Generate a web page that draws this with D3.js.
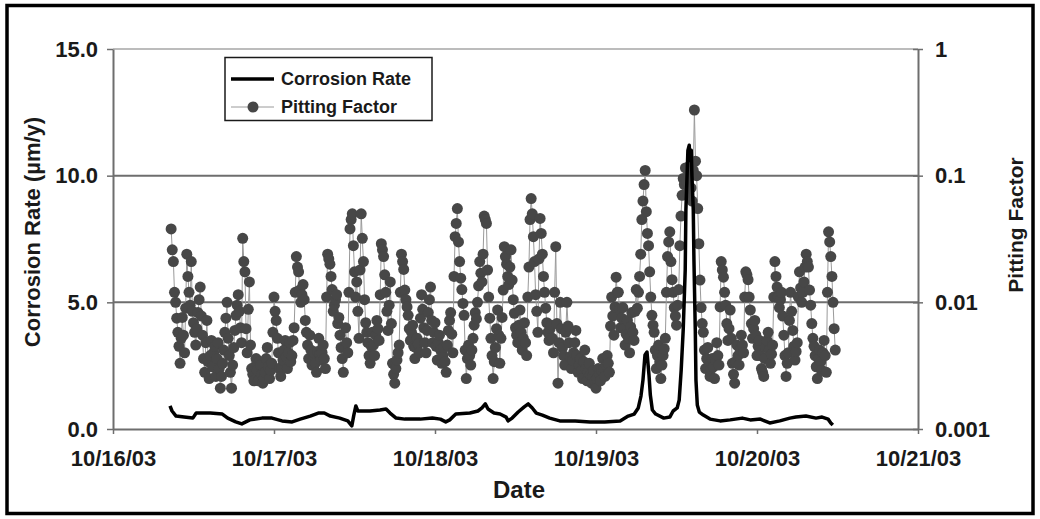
<!DOCTYPE html>
<html>
<head>
<meta charset="utf-8">
<script src="https://cdn.jsdelivr.net/npm/d3@7"></script>
<style>
  body { margin: 0; background: #fff; }
  text { font-family: "Liberation Sans", Arial, sans-serif; }
</style>
</head>
<body>
<svg id="chart" width="1040" height="519"></svg>
<script>
// pitting factor, one reading every 10 minutes from 10/16/03 08:40
const pittingStart = new Date(2003, 9, 16, 8, 40);
const pittingStepMinutes = 10;
const pittingFactor = [
  .038, .026, .021, .012, .01, .0075, .0058, .0045, .0033, .0052, .0076, .0055, .004, .009, .024, .016, .012, .0095, .021, .0085,
  .0069, .0058, .0046, .0062, .0083, .0105, .0132, .0078, .0055, .0036, .0028, .0048, .0072, .0034, .0025, .0038, .005, .0031, .004, .0045,
  .0026, .0036, .0048, .003, .0021, .0026, .0033, .0042, .0058, .0075, .01, .0052, .0038, .0028, .0021, .0032, .0044, .006, .0079, .0095,
  .0115, .0085, .0063, .0048, .032, .021, .0174, .0062, .004, .0088, .0145, .0046, .003, .0027, .0024, .0031, .0036, .0029, .0024, .0034,
  .0032, .0027, .0023, .0025, .0028, .0036, .0044, .0031, .0025, .0029, .0033, .0058, .011, .0085, .0072, .0052, .004, .003, .0026, .0031,
  .0035, .0042, .005, .0037, .003, .004, .0048, .0034, .0038, .005, .0063, .012, .023, .019, .0174, .0125, .01, .0115, .0138, .0105,
  .0072, .0058, .0046, .0036, .0055, .0042, .0032, .0035, .004, .0033, .0028, .0041, .0052, .0039, .0035, .004, .0046, .0036, .003, .011,
  .024, .022, .02, .016, .0126, .0085, .0095, .0105, .0115, .0068, .0076, .0055, .0044, .0036, .0028, .0045, .0063, .0048, .004, .012,
  .038, .045, .05, .028, .0174, .011, .0145, .0085, .0052, .018, .05, .032, .021, .0105, .0069, .0058, .0048, .0038, .0033, .0045,
  .0058, .0046, .0038, .0055, .0072, .0062, .005, .0115, .029, .026, .023, .0165, .012, .0085, .006, .0095, .0145, .0068, .0033, .0027,
  .0023, .003, .0035, .004, .0046, .012, .024, .021, .0182, .0125, .0105, .0092, .0079, .0062, .005, .0058, .0066, .0045, .0036, .0044,
  .0052, .0047, .004, .0075, .0115, .0088, .0063, .0048, .004, .006, .0083, .0105, .0132, .0072, .0048, .0058, .0069, .0045, .0035, .0048,
  .0055, .0042, .0033, .0038, .0044, .0034, .0028, .0046, .006, .0072, .0083, .0056, .004, .016, .033, .042, .055, .03, .021, .0155,
  .0126, .0098, .0079, .0042, .0025, .0036, .0046, .0038, .0032, .0042, .0052, .0066, .0083, .0074, .01, .0135, .021, .017, .0145, .024,
  .048, .045, .042, .018, .011, .0075, .0052, .0038, .0025, .0034, .0044, .0062, .0087, .0055, .0033, .0052, .0076, .0125, .0275, .023,
  .02, .016, .0138, .019, .026, .015, .0105, .0082, .0063, .0055, .0048, .0066, .0087, .0058, .0042, .0052, .0069, .0048, .0038, .011,
  .019, .045, .066, .05, .033, .021, .0115, .0085, .0058, .022, .046, .035, .024, .016, .012, .009, .0069, .0058, .005, .0062,
  .0066, .0052, .004, .012, .0275, .0068, .0023, .0048, .01, .0062, .0044, .0038, .0032, .0058, .01, .0065, .0048, .0037, .003, .0035,
  .004, .0048, .006, .0038, .0028, .0032, .0036, .0029, .0025, .0034, .0042, .003, .0024, .0028, .0033, .0027, .0023, .0026, .0029, .0024,
  .0021, .0025, .003, .0027, .0024, .0029, .0036, .003, .0026, .0032, .0038, .0033, .0028, .0065, .011, .0078, .0055, .0092, .0158, .012,
  .012, .0088, .0063, .0075, .0091, .0062, .0046, .0056, .0072, .0052, .004, .0064, .0083, .0058, .005, .0085, .0126, .009, .012, .016,
  .024, .045, .063, .085, .11, .052, .035, .028, .0174, .011, .0079, .0066, .0058, .0042, .003, .0038, .0046, .0034, .0025, .0032,
  .0038, .0043, .0052, .012, .023, .03, .036, .021, .0151, .012, .0091, .0078, .0066, .0095, .0126, .028, .048, .07, .095, .085,
  .115, .09, .072, .1, .12, .08, .063, .11, .33, .13, .1, .055, .029, .015, .0091, .0068, .0058, .0042, .003, .0036,
  .0044, .0032, .0026, .003, .0036, .0031, .0025, .0035, .0048, .0038, .0032, .0092, .021, .018, .0158, .012, .0095, .0068, .005, .0062,
  .0087, .0052, .0033, .0027, .0023, .0034, .0046, .0038, .0032, .0042, .0055, .0046, .004, .011, .0174, .0165, .0151, .011, .0087, .0068,
  .0052, .0062, .0072, .0055, .0038, .0045, .005, .0038, .003, .0028, .0026, .0036, .0044, .005, .0058, .0042, .0033, .0039, .0046, .011,
  .021, .016, .0132, .011, .0091, .0105, .012, .0078, .0055, .0038, .0026, .0033, .004, .0072, .012, .0085, .006, .0045, .0035, .0041,
  .0048, .011, .0174, .013, .01, .012, .0145, .019, .024, .021, .019, .0125, .0095, .0068, .0052, .0045, .0038, .0031, .0025, .0036,
  .0042, .0034, .0029, .004, .005, .0038, .0028, .012, .036, .03, .023, .016, .01, .0062, .0042
];

// corrosion rate, hours after 10/16/03 00:00 and rate in µm/y
const corrosionHours = [
  8.5, 8.8, 9.4, 10.6, 11.9, 12.4, 14.5, 16.3, 17.1, 18.3,
  19.2, 20.4, 22.2, 23.7, 25.2, 26.7, 27.9, 29.4, 30.6, 31.5,
  32.4, 33.8, 35.0, 35.6, 35.9, 36.2, 36.5, 38.3, 39.8, 40.7,
  41.3, 42.2, 43.5, 45.8, 47.6, 48.8, 49.6, 50.2, 51.1, 53.2,
  54.4, 55.0, 55.5, 55.9, 56.8, 57.7, 58.6, 58.9, 59.5, 60.4,
  61.3, 61.9, 62.5, 63.1, 64.0, 65.1, 66.6, 68.9, 71.1, 73.3,
  75.6, 76.8, 77.7, 78.3, 78.7, 79.0, 79.3, 79.6, 79.9, 80.1,
  80.4, 80.9, 82.1, 83.0, 83.5, 84.1, 84.4, 84.7, 85.0, 85.3,
  85.4, 85.6, 85.7, 85.9, 86.0, 86.2, 86.3, 86.5, 86.6, 86.8,
  86.9, 87.1, 87.4, 88.0, 89.0, 90.5, 92.0, 93.8, 95.0, 96.5,
  97.9, 99.4, 100.9, 101.8, 103.3, 104.8, 105.7, 106.6, 107.0, 107.3
];
const corrosionRate = [
  0.91, 0.71, 0.51, 0.47, 0.43, 0.63, 0.63, 0.59, 0.43, 0.28,
  0.20, 0.36, 0.43, 0.43, 0.32, 0.28, 0.39, 0.51, 0.63, 0.63,
  0.51, 0.43, 0.32, 0.12, 0.55, 0.91, 0.71, 0.71, 0.75, 0.79,
  0.63, 0.43, 0.39, 0.39, 0.43, 0.39, 0.28, 0.36, 0.59, 0.63,
  0.71, 0.83, 0.99, 0.79, 0.63, 0.59, 0.47, 0.32, 0.43, 0.67,
  0.87, 0.99, 0.83, 0.63, 0.55, 0.43, 0.32, 0.32, 0.28, 0.28,
  0.32, 0.51, 0.59, 0.83, 1.30, 1.93, 2.92, 3.04, 2.13, 1.34,
  0.75, 0.59, 0.43, 0.47, 0.71, 0.83, 1.14, 2.33, 3.91, 6.28,
  8.65, 10.2, 11.0, 11.2, 10.6, 11.0, 10.0, 8.65, 6.67, 3.91,
  1.93, 0.95, 0.67, 0.55, 0.39, 0.32, 0.36, 0.43, 0.36, 0.39,
  0.24, 0.32, 0.43, 0.47, 0.51, 0.43, 0.47, 0.39, 0.24, 0.16
];

const dateTicks = ['10/16/03', '10/17/03', '10/18/03', '10/19/03', '10/20/03', '10/21/03'];
const rateTicks = [0, 5, 10, 15];
const pittingTicks = [0.001, 0.01, 0.1, 1];

const parseDate = d3.timeParse('%m/%d/%y');
const dayZero = parseDate(dateTicks[0]);

const svg = d3.select('#chart');

// outer frame
svg.append('rect')
  .attr('x', 7).attr('y', 5.5)
  .attr('width', 1026).attr('height', 508)
  .attr('fill', 'none').attr('stroke', '#000').attr('stroke-width', 3.5);

const x = d3.scaleTime()
  .domain([parseDate(dateTicks[0]), parseDate(dateTicks[dateTicks.length - 1])])
  .range([113, 918]);
const yRate = d3.scaleLinear().domain([0, 15]).range([429, 49]);
const yPit = d3.scaleLog().domain([0.001, 1]).range([429, 49]);

// gridlines
svg.append('g').selectAll('line')
  .data(rateTicks.filter(d => d > 0))
  .join('line')
  .attr('x1', x.range()[0]).attr('x2', x.range()[1])
  .attr('y1', d => yRate(d)).attr('y2', d => yRate(d))
  .attr('stroke', d => d === 15 ? '#a6a6a6' : '#6e6e6e')
  .attr('stroke-width', d => d === 15 ? 1.5 : 2);

// pitting factor series
const pitting = pittingFactor.map((v, i) => ({
  t: d3.timeMinute.offset(pittingStart, i * pittingStepMinutes),
  v: v
}));

svg.append('path')
  .datum(pitting)
  .attr('fill', 'none')
  .attr('stroke', '#9a9a9a')
  .attr('stroke-width', 1)
  .attr('d', d3.line().x(d => x(d.t)).y(d => yPit(d.v)));

svg.append('g').selectAll('circle')
  .data(pitting)
  .join('circle')
  .attr('cx', d => x(d.t))
  .attr('cy', d => yPit(d.v))
  .attr('r', 5.5)
  .attr('fill', '#474747');

// corrosion rate series
const corrosion = corrosionHours.map((h, i) => ({
  t: d3.timeMinute.offset(dayZero, Math.round(h * 60)),
  v: corrosionRate[i]
}));

svg.append('path')
  .datum(corrosion)
  .attr('fill', 'none')
  .attr('stroke', '#000')
  .attr('stroke-width', 3.5)
  .attr('stroke-linejoin', 'round')
  .attr('d', d3.line().x(d => x(d.t)).y(d => yRate(d.v)));

// axes
const xAxis = svg.append('g')
  .attr('transform', 'translate(0,429)')
  .call(d3.axisBottom(x)
    .tickValues(dateTicks.map(parseDate))
    .tickFormat(d3.timeFormat('%m/%d/%y'))
    .tickSizeInner(5).tickSizeOuter(0).tickPadding(16));

const leftAxis = svg.append('g')
  .attr('transform', 'translate(113,0)')
  .call(d3.axisLeft(yRate)
    .tickValues(rateTicks)
    .tickFormat(d3.format('.1f'))
    .tickSizeInner(6).tickSizeOuter(0).tickPadding(9));

const rightAxis = svg.append('g')
  .attr('transform', 'translate(918,0)')
  .call(d3.axisRight(yPit)
    .tickValues(pittingTicks)
    .tickFormat(d => String(d))
    .tickSizeInner(5).tickSizeOuter(0).tickPadding(12));
rightAxis.selectAll('.tick line').attr('x1', -5);

[xAxis, leftAxis, rightAxis].forEach(g => {
  g.select('.domain').attr('stroke', '#6e6e6e').attr('stroke-width', 2);
  g.selectAll('.tick line').attr('stroke', '#6e6e6e').attr('stroke-width', 1.5);
  g.selectAll('.tick text')
    .attr('fill', '#1a1a1a')
    .style('font-size', '22px')
    .style('font-weight', 'bold')
    .style('font-family', '"Liberation Sans", Arial, sans-serif');
});

// axis titles
svg.append('text')
  .attr('x', 519).attr('y', 498)
  .attr('text-anchor', 'middle')
  .attr('fill', '#1a1a1a')
  .style('font-size', '24px').style('font-weight', 'bold')
  .text('Date');

svg.append('text')
  .attr('transform', 'translate(40,232) rotate(-90)')
  .attr('text-anchor', 'middle')
  .attr('fill', '#1a1a1a')
  .style('font-size', '22px').style('font-weight', 'bold')
  .text('Corrosion Rate (µm/y)');

svg.append('text')
  .attr('transform', 'translate(1023,225) rotate(-90)')
  .attr('text-anchor', 'middle')
  .attr('fill', '#1a1a1a')
  .style('font-size', '21px').style('font-weight', 'bold')
  .text('Pitting Factor');

// legend
const legend = svg.append('g');
legend.append('rect')
  .attr('x', 225).attr('y', 57.5)
  .attr('width', 207).attr('height', 63)
  .attr('fill', '#fff').attr('stroke', '#1a1a1a').attr('stroke-width', 1.5);

legend.append('line')
  .attr('x1', 231).attr('x2', 274).attr('y1', 79).attr('y2', 79)
  .attr('stroke', '#000').attr('stroke-width', 3.5);
legend.append('line')
  .attr('x1', 231).attr('x2', 274).attr('y1', 107).attr('y2', 107)
  .attr('stroke', '#9a9a9a').attr('stroke-width', 1);
legend.append('circle')
  .attr('cx', 253).attr('cy', 107).attr('r', 5.5).attr('fill', '#474747');

legend.selectAll('text.lab')
  .data(['Corrosion Rate', 'Pitting Factor'])
  .join('text')
  .attr('class', 'lab')
  .attr('x', 281)
  .attr('y', (d, i) => 79 + i * 28)
  .attr('dy', '0.35em')
  .attr('fill', '#1a1a1a')
  .style('font-size', '18px').style('font-weight', 'bold')
  .text(d => d);
</script>
</body>
</html>
